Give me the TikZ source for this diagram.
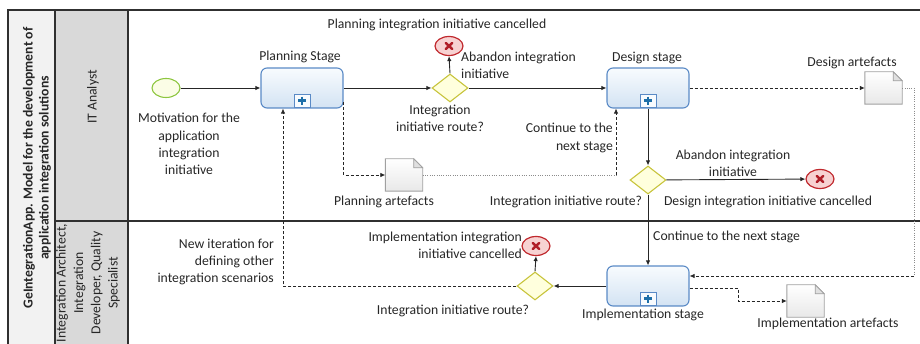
\documentclass[tikz,border=0pt]{standalone}
\usepackage{fontspec}
\setmainfont{Carlito}
\usetikzlibrary{shapes.geometric,arrows.meta,calc}

\definecolor{frameline}{HTML}{303030}
\definecolor{poolfill}{HTML}{F2F2F2}
\definecolor{lanefill}{HTML}{D9D9D9}
\definecolor{taskline}{HTML}{5A8AC6}
\definecolor{tasktop}{HTML}{F8FBFE}
\definecolor{taskbot}{HTML}{D3E3F3}
\definecolor{markcross}{HTML}{1E6FA8}
\definecolor{gwline}{HTML}{C8C43C}
\definecolor{gwfill}{HTML}{FFFFDD}
\definecolor{endline}{HTML}{C0282D}
\definecolor{endfill}{HTML}{F7D2D2}
\definecolor{endcross}{HTML}{B01E28}
\definecolor{startline}{HTML}{8DC63F}
\definecolor{startfill}{HTML}{FBFDE6}
\definecolor{docline}{HTML}{A0A0A0}
\definecolor{txt}{HTML}{262626}

\tikzset{
  lbl/.style={font=\fontsize{13.7}{17.3}\selectfont, text=txt, inner sep=0pt, align=center},
  task/.style={rectangle, rounded corners=6pt, draw=taskline, line width=1.1pt,
    top color=tasktop, bottom color=taskbot, minimum width=82pt, minimum height=40pt, inner sep=0pt},
  plusmark/.style={rectangle, draw=taskline, line width=0.9pt, fill=tasktop,
    minimum width=16pt, minimum height=13pt, inner sep=0pt,
    path picture={\draw[markcross, line width=2.6pt]
      ($(path picture bounding box.center)+(-4,0)$) -- ++(8,0)
      ($(path picture bounding box.center)+(0,-4)$) -- ++(0,8);}},
  gateway/.style={diamond, draw=gwline, line width=1.1pt, fill=gwfill,
    minimum width=36pt, minimum height=28pt, inner sep=0pt},
  startev/.style={ellipse, draw=startline, line width=1.1pt, fill=startfill,
    minimum width=28pt, minimum height=19pt, inner sep=0pt},
  endev/.style={ellipse, draw=endline, line width=1.2pt, fill=endfill,
    minimum width=28pt, minimum height=19pt, inner sep=0pt,
    path picture={\draw[endcross, line width=2.4pt, line cap=round]
      ($(path picture bounding box.center)+(-3.2,-3)$) -- ++(6.4,6)
      ($(path picture bounding box.center)+(-3.2,3)$) -- ++(6.4,-6);}},
  docbox/.style={rectangle, minimum width=37pt, minimum height=32pt, inner sep=0pt},
  docshape/.style={draw=docline, line width=0.9pt, top color=white, bottom color=black!9},
  flow/.style={draw=txt, line width=0.9pt, -{Latex[length=5pt,width=4.5pt]}},
  assocout/.style={draw=txt, line width=0.8pt, dash pattern=on 3pt off 2pt,
    -{Latex[length=5pt,width=4.5pt]}},
  associn/.style={draw=black!45, line width=0.7pt, dash pattern=on 1pt off 1.3pt},
  frame/.style={draw=frameline, line width=1.3pt},
}

% document artefact with a folded corner
\newcommand{\artefact}[3]{%
  \node[docbox] (#1) at (#2,#3) {};
  \path[docshape] (#1.north west) -- ($(#1.north east)+(-9,0)$) -- ($(#1.north east)+(0,9)$)
    -- (#1.south east) -- (#1.south west) -- cycle;
  \draw[draw=docline, line width=0.8pt, fill=black!12] ($(#1.north east)+(-9,0)$) -- ($(#1.north east)+(-9,9)$)
    -- ($(#1.north east)+(0,9)$) -- cycle;
}

\begin{document}
\begin{tikzpicture}[x=1pt, y=-1pt]
\useasboundingbox (0,0) rectangle (920,344);

% pool and lane headers
\fill[poolfill] (8,10) rectangle (55,344);
\fill[lanefill] (55,10) rectangle (128,344);
\draw[frame] (8,344) -- (8,10) -- (920,10);
\draw[frame] (55,10) -- (55,344);
\draw[frame] (128,10) -- (128,344);
\draw[frame] (55,221) -- (920,221);

\node[lbl, font=\fontsize{13.7}{16}\selectfont\bfseries, rotate=90] (pool) at (37,168)
  {GeIntegrationApp. Model for the development of\\application integration solutions};
\node[lbl, rotate=90] (laneA) at (93,97) {IT Analyst};
\node[lbl, rotate=90] (laneB) at (88,283)
  {Integration Architect,\\Integration\\Developer, Quality\\Specialist};

% flow objects
\node[startev] (start) at (166,88) {};
\node[task] (plan) at (302,88) {};
\node[plusmark] at ($(plan.south)+(0,-8)$) {};
\node[gateway] (g1) at (450,88) {};
\node[endev] (e1) at (449,46) {};
\node[task] (design) at (648,88) {};
\node[plusmark] at ($(design.south)+(0,-8)$) {};
\node[gateway] (g2) at (648,180) {};
\node[endev] (e2) at (820,179) {};
\node[task] (impl) at (648,286) {};
\node[plusmark] at ($(impl.south)+(0,-8)$) {};
\node[gateway] (g3) at (535,286) {};
\node[endev] (e3) at (536,246) {};

\artefact{pa}{404}{175}
\artefact{da}{883.5}{88}
\artefact{ia}{805.5}{301}

% sequence flows
\draw[flow] (start) -- (plan);
\draw[flow] (plan) -- (g1);
\draw[flow] (g1.north) -- (e1.south);
\draw[flow] (g1) -- (design);
\draw[flow] (design) -- (g2);
\draw[flow] (g2) -- (e2);
\draw[flow] (g2) -- (impl);
\draw[flow] (impl) -- (g3);
\draw[flow] (g3.north) -- (e3.south);
\draw[assocout] (g3.west) -| ($(plan.south)+(-19,0)$);

% data associations
\coordinate (pout) at ($(plan.east)+(0,14)$);
\draw[assocout] (pout) |- (pa.west);
\coordinate (pin) at (616,175);
\draw[associn] (pa.east) -- (pin);
\draw[assocout] (pin) -- (pin |- design.south);
\draw[assocout] (design) -- (da);
\coordinate (dturn) at (914,88);
\coordinate (dback) at (914,276);
\draw[associn] (da.east) -- (dturn) -- (dback);
\draw[assocout] (dback) -- (dback -| impl.east);
\coordinate (iout) at ($(impl.east)+(0,2)$);
\draw[assocout] (iout) -- (738,288) |- (ia.west);

% labels
\node[lbl] (lplan) at (300,57) {Planning Stage};
\node[lbl] (ldesign) at (647,58) {Design stage};
\node[lbl] (limpl) at (643,315) {Implementation stage};
\node[lbl] (lstart) at (189,144) {Motivation for the\\application\\integration\\initiative};
\node[lbl] (le1) at (437,25) {Planning integration initiative cancelled};
\node[lbl, anchor=west, align=left] (lab1) at (461,65) {Abandon integration\\initiative};
\node[lbl] (lg1) at (440,118) {Integration\\initiative route?};
\node[lbl, anchor=east, align=right] (lcont1) at (613,138) {Continue to the\\next stage};
\node[lbl] (lpa) at (384,202) {Planning artefacts};
\node[lbl] (lda) at (852,63) {Design artefacts};
\node[lbl] (lg2) at (566,202) {Integration initiative route?};
\node[lbl] (lab2) at (733,163) {Abandon integration\\initiative};
\node[lbl] (le2) at (768,202) {Design integration initiative cancelled};
\node[lbl, anchor=west] (lcont2) at (653,237) {Continue to the next stage};
\node[lbl, anchor=east, align=right] (le3) at (522,245) {Implementation integration\\initiative cancelled};
\node[lbl] (lg3) at (453,311) {Integration initiative route?};
\node[lbl, anchor=east, align=right] (liter) at (274,262) {New iteration for\\defining other\\integration scenarios};
\node[lbl] (lia) at (828,324) {Implementation artefacts};
\end{tikzpicture}
\end{document}
